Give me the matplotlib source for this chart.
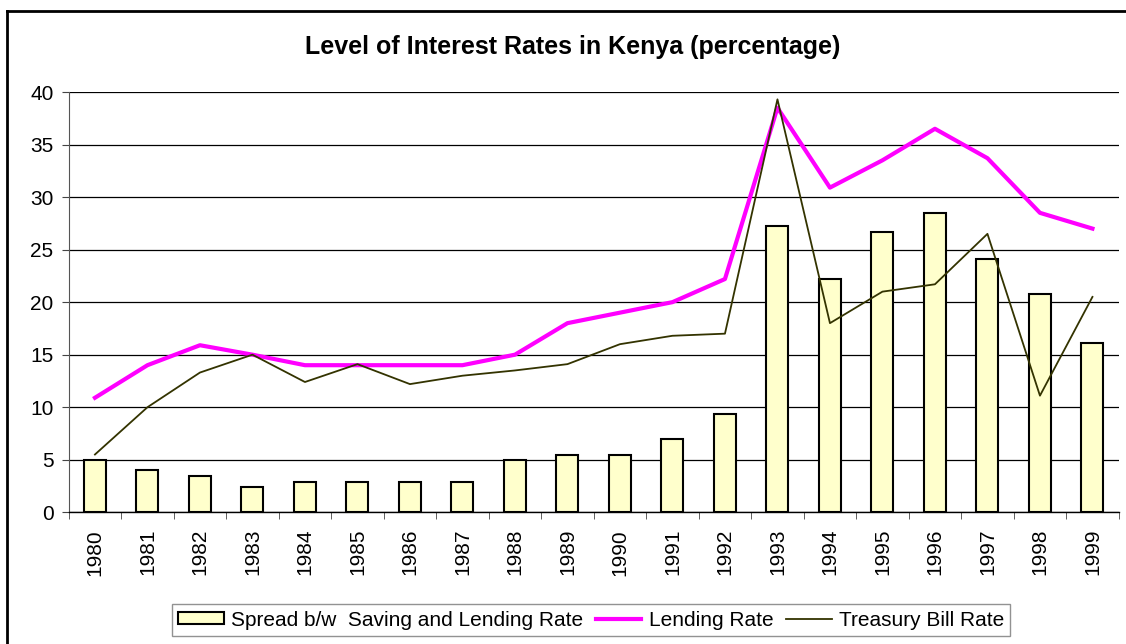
import matplotlib
matplotlib.use("Agg")
import matplotlib.pyplot as plt
from matplotlib.lines import Line2D

years = ["1980", "1981", "1982", "1983", "1984", "1985", "1986", "1987", "1988", "1989",
         "1990", "1991", "1992", "1993", "1994", "1995", "1996", "1997", "1998", "1999"]
spread = [5.0, 4.0, 3.5, 2.4, 2.9, 2.9, 2.9, 2.9, 5.0, 5.5,
          5.5, 7.0, 9.4, 27.2, 22.2, 26.7, 28.5, 24.1, 20.8, 16.1]
lending = [10.9, 14.0, 15.9, 15.0, 14.0, 14.0, 14.0, 14.0, 15.0, 18.0,
           19.0, 20.0, 22.2, 38.5, 30.9, 33.5, 36.5, 33.7, 28.5, 27.0]
tbill = [5.5, 10.0, 13.3, 15.0, 12.4, 14.1, 12.2, 13.0, 13.5, 14.1,
         16.0, 16.8, 17.0, 39.3, 18.0, 21.0, 21.7, 26.5, 11.1, 20.5]
yticks = [0, 5, 10, 15, 20, 25, 30, 35, 40]

plt.rcParams['font.family'] = ['Liberation Sans', 'DejaVu Sans']

W, H = 1126, 644
fig = plt.figure(figsize=(W / 100, H / 100), dpi=100)
fig.patch.set_facecolor('white')

# outer chart border: only left and top edges are visible
fig.lines.append(Line2D([7 / W, 7 / W], [0, 1 - 11 / H], transform=fig.transFigure,
                        color='black', linewidth=2.0, solid_capstyle='projecting'))
fig.lines.append(Line2D([7 / W, 1], [1 - 11 / H, 1 - 11 / H], transform=fig.transFigure,
                        color='black', linewidth=2.0, solid_capstyle='projecting'))

l, r, t, b = 68.7, 1118.7, 92.0, 512.3
ax = fig.add_axes([l / W, (H - b) / H, (r - l) / W, (b - t) / H])

x = list(range(len(years)))
bars = ax.bar(x, spread, width=0.42, color='#FFFFCC', edgecolor='black', linewidth=1.5,
              zorder=2, label='Spread b/w  Saving and Lending Rate')
ln1, = ax.plot(x, lending, color='#FF00FF', linewidth=3.0, zorder=3, label='Lending Rate')
ln2, = ax.plot(x, tbill, color='#333300', linewidth=1.3, zorder=4, label='Treasury Bill Rate')

ax.set_xlim(-0.5, len(years) - 0.5)
ax.set_ylim(0, 40)
ax.set_yticks(yticks)
ax.set_yticklabels([str(v) for v in yticks], fontsize=15)
ax.yaxis.grid(True, color='black', linewidth=0.9, zorder=0)
ax.set_axisbelow(True)

ax.set_xticks(x)
ax.set_xticklabels(years, rotation=90, fontsize=15)
ax.tick_params(axis='x', which='major', length=0, pad=12)
ax.set_xticks([i - 0.5 for i in range(len(years) + 1)], minor=True)
ax.tick_params(axis='x', which='minor', length=5, direction='out', color='#444444')
ax.tick_params(axis='y', length=5, direction='out', color='#444444', pad=6)

for s in ['top', 'right']:
    ax.spines[s].set_visible(False)
ax.spines['left'].set_color('#555555')
ax.spines['bottom'].set_color('black')
ax.spines['bottom'].set_linewidth(1.0)

fig.text(573 / W, 1 - 47 / H, 'Level of Interest Rates in Kenya (percentage)',
         ha='center', va='center', fontsize=18, fontweight='bold')

leg = fig.legend(handles=[bars, ln1, ln2], loc='center',
                 bbox_to_anchor=(591 / W, 1 - 620 / H), ncol=3,
                 fontsize=15, frameon=True, fancybox=False, edgecolor='#777777',
                 handlelength=2.2, handletextpad=0.35, columnspacing=0.6,
                 borderpad=0.3, handleheight=0.5)
leg.get_frame().set_linewidth(1.0)

fig.savefig('out.png', dpi=100, facecolor='white')
